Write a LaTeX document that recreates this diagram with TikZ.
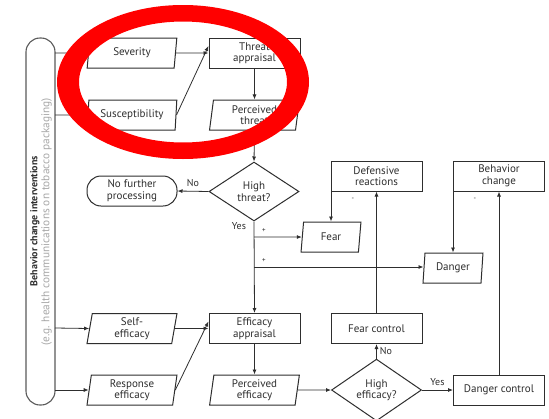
\documentclass[tikz,border=0pt]{standalone}
\usepackage{fontspec}
\setmainfont{PT Sans}
\usetikzlibrary{shapes.geometric,arrows.meta}
\definecolor{ink}{HTML}{2E2E2E}
\definecolor{pillgray}{HTML}{5A5A5A}
\definecolor{notegray}{HTML}{A8A8A8}
\definecolor{ringred}{HTML}{FF0000}
\begin{document}
\begin{tikzpicture}[x=1pt,y=-1pt,
  font=\fontsize{11}{11.5}\selectfont,
  every node/.style={text=ink},
  box/.style={draw=ink,line width=1pt,minimum width=91pt,minimum height=30pt,
    align=center,inner sep=1pt},
  para/.style={box,trapezium,trapezium left angle=84,trapezium right angle=96,
    trapezium stretches=true,minimum width=90pt},
  smallpara/.style={para,minimum width=60pt},
  stadium/.style={box,rounded corners=14pt,minimum width=90pt},
  decision/.style={draw=ink,line width=1pt,diamond,minimum width=90pt,
    minimum height=59pt,inner sep=0pt,align=center},
  conn/.style={draw=ink,line width=0.8pt},
  arr/.style={conn,-{Latex[length=5pt,width=4pt]}},
  lbl/.style={font=\fontsize{10}{10}\selectfont,inner sep=0pt},
  sign/.style={font=\fontsize{7}{7}\selectfont,inner sep=0pt}]
\useasboundingbox (0,0) rectangle (549,418);
\fill[white] (0,0) rectangle (549,418);

% intervention bar on the left
\draw[pillgray,line width=1.1pt,rounded corners=14pt] (26,38) rectangle (55,405);
\node[rotate=90,font=\bfseries\fontsize{10}{11}\selectfont] (bci) at (35,221) {Behavior change interventions};
\node[rotate=90,text=notegray,font=\fontsize{11.3}{12}\selectfont] (eg) at (46.5,222) {(e.g. health communications on tobacco packaging)};
\coordinate (pR1) at (55,53);
\coordinate (pR2) at (55,115);
\coordinate (pR3) at (55,328);
\coordinate (pR4) at (55,390);

% threat side
\node[para] (sev) at (132,53) {Severity};
\node[para] (sus) at (132,115) {Susceptibility};
\node[box] (tapp) at (254.5,53) {Threat\\appraisal};
\node[para] (pthr) at (254.5,115) {Perceived\\threat};
\node[decision] (hthr) at (254,191.5) {High\\threat?};
\node[stadium] (nfp) at (132,191) {No further\\processing};
\node[smallpara] (fear) at (331,237) {Fear};
\node[smallpara] (dang) at (453,268) {Danger};
\node[box] (defr) at (376.5,176) {Defensive\\reactions};
\node[box] (bchg) at (499,176) {Behavior\\change};

% efficacy side
\node[para] (self) at (132,328.5) {Self-\\efficacy};
\node[para] (resp) at (132,390) {Response\\efficacy};
\node[box] (eapp) at (254.5,328.5) {Efficacy\\appraisal};
\node[para] (peff) at (254.5,390) {Perceived\\efficacy};
\node[box] (fctl) at (376.5,328.5) {Fear control};
\node[decision] (heff) at (376.5,390) {High\\efficacy?};
\node[box] (dctl) at (499,390) {Danger control};

% connectors
\draw[conn] (pR1) -- (sev.west);
\draw[conn] (pR2) -- (sus.west);
\draw[arr] (pR3) -- (self.west);
\draw[arr] (pR4) -- (resp.west);

\draw[arr] (sev.east) -- (tapp.west);
\draw[arr] (sus.east) -- ([yshift=7pt]tapp.west);
\draw[arr] (tapp.south) -- (pthr.north);
\draw[arr] (pthr.south) -- (hthr.north);
\draw[arr] (hthr.west) -- node[lbl,above=4pt] (no1) {No} (nfp.east);
\node[lbl] (yes1) at (239,226) {Yes};
\draw[arr] (hthr.south) -- (eapp.north);
\coordinate (br1) at (254,237);
\coordinate (br2) at (254,267);
\draw[arr] (br1) -- (fear.west);
\draw[arr] (br2) -- (br2 -| dang.west);
\node[sign] (p1) at (264,231) {+};
\node[sign] (p2) at (264,261) {+};
\draw[arr] (fear.north |- defr.south) -- (fear.north);
\node[sign] (m1) at (353,199) {-};
\draw[arr] (dang.north |- bchg.south) -- (dang.north);
\node[sign] (m2) at (475,199) {-};
\draw[arr] (fctl.north) -- (defr.south);
\draw[arr] (dctl.north) -- (bchg.south);

\draw[arr] (self.east) -- (eapp.west);
\draw[arr] (resp.east) -- ([yshift=7pt]eapp.west);
\draw[arr] (eapp.south) -- (peff.north);
\draw[arr] (peff.east) -- (heff.west);
\draw[arr] (heff.north) -- node[lbl,right=3pt] (no2) {No} (fctl.south);
\draw[arr] (heff.east) -- node[lbl,above=4pt] (yes2) {Yes} (dctl.west);

% red highlight ring, thicker at the sides than at top and bottom
\fill[ringred,even odd rule]
  (183,82) ellipse [x radius=126, y radius=77]
  (183,82) ellipse [x radius=104, y radius=60.5];
\end{tikzpicture}
\end{document}
